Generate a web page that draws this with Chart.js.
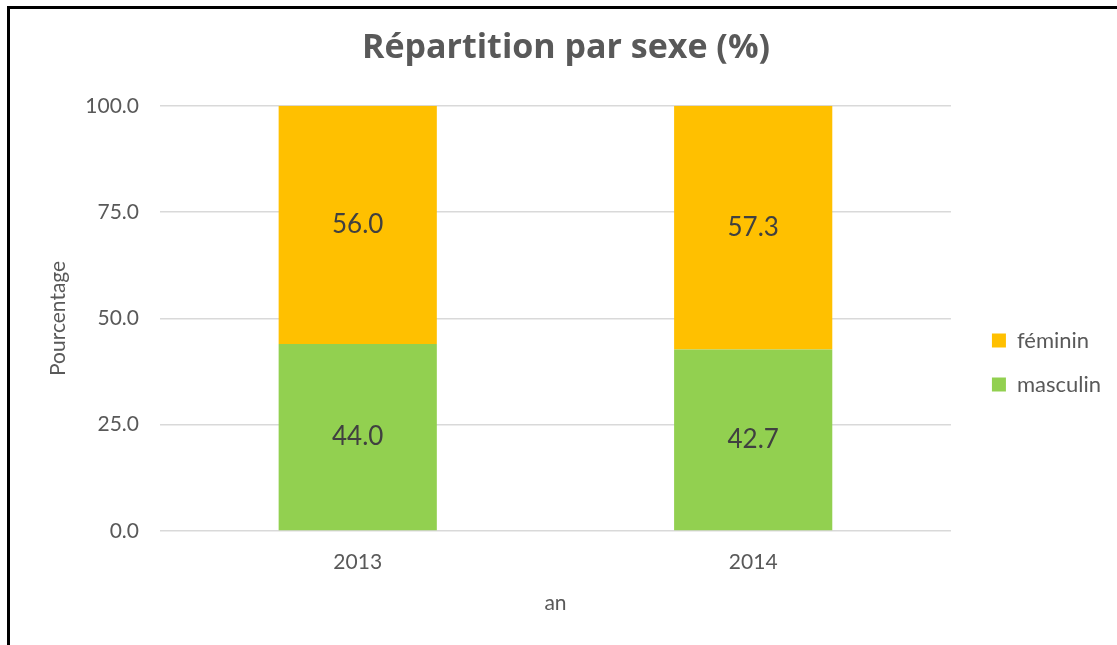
<!DOCTYPE html>
<html>
<head>
<meta charset="utf-8">
<script src="https://cdn.jsdelivr.net/npm/chart.js@4/dist/chart.umd.min.js"></script>
<style>
  html, body { margin: 0; padding: 0; background: #fff; overflow: hidden; }
  #wrap { position: relative; width: 1117px; height: 645px; }
  #frame {
    position: absolute; left: 7px; top: 6px; right: 0; bottom: 0;
    border-left: 3px solid #000; border-top: 3px solid #000;
    pointer-events: none;
  }
</style>
</head>
<body>
<div id="wrap">
  <canvas id="chart" width="1117" height="645"></canvas>
  <div id="frame"></div>
</div>
<script>
  // ── DATA ──────────────────────────────────────────────────────────
  const YEARS     = ['2013', '2014'];
  const MASCULIN  = [44.0, 42.7];
  const FEMININ   = [56.0, 57.3];
  const Y_TICKS   = [0, 25, 50, 75, 100];

  const FONT       = "Lato, 'Open Sans', sans-serif";
  const TITLE_FONT = "'Open Sans', Lato, sans-serif";
  const GREY_TEXT  = '#595959';

  // legend sits a bit lower / further right than Chart.js puts it
  const LEGEND_SHIFT_X = 19;
  const LEGEND_SHIFT_Y = 40;

  // ── VALUE LABELS INSIDE THE BARS ──────────────────────────────────
  const barValues = {
    id: 'barValues',
    afterDatasetsDraw(chart) {
      const { ctx } = chart;
      ctx.save();
      ctx.font = '26px ' + FONT;
      ctx.fillStyle = '#404040';
      ctx.textAlign = 'center';
      ctx.textBaseline = 'middle';
      chart.data.datasets.forEach((ds, di) => {
        const meta = chart.getDatasetMeta(di);
        meta.data.forEach((bar, i) => {
          const y = (bar.y + bar.base) / 2;
          ctx.fillText(ds.data[i].toFixed(1), bar.x, y);
        });
      });
      ctx.restore();
    }
  };

  const legendNudge = {
    id: 'legendNudge',
    afterLayout(chart) {
      const lg = chart.legend;
      if (!lg) return;
      lg.left += LEGEND_SHIFT_X; lg.right += LEGEND_SHIFT_X;
      lg.top += LEGEND_SHIFT_Y;  lg.bottom += LEGEND_SHIFT_Y;
    }
  };

  new Chart(document.getElementById('chart'), {
    type: 'bar',
    data: {
      labels: YEARS,
      datasets: [
        { label: 'masculin', data: MASCULIN, backgroundColor: '#92D050',
          barPercentage: 0.4, categoryPercentage: 1.0 },
        { label: 'féminin',  data: FEMININ,  backgroundColor: '#FFC000',
          barPercentage: 0.4, categoryPercentage: 1.0 }
      ]
    },
    options: {
      responsive: false,
      animation: false,
      layout: { padding: { left: 40, right: 25, top: 0, bottom: 0 } },
      plugins: {
        title: {
          display: true,
          text: 'Répartition par sexe (%)',
          color: GREY_TEXT,
          font: { family: TITLE_FONT, size: 34, weight: 'bold' },
          padding: { top: 28, bottom: 37 }
        },
        legend: {
          position: 'right',
          reverse: true,
          labels: {
            color: GREY_TEXT,
            font: { family: FONT, size: 22 },
            boxWidth: 14,
            boxHeight: 14,
            padding: 22
          }
        },
        tooltip: { enabled: false }
      },
      scales: {
        x: {
          stacked: true,
          grid: { display: false, drawTicks: false },
          border: { display: false },
          ticks: { color: GREY_TEXT, font: { family: FONT, size: 21 }, padding: 19 },
          title: {
            display: true, text: 'an', color: GREY_TEXT,
            font: { family: FONT, size: 21 }, padding: { top: 0, bottom: 29 }
          },
          afterFit(s) { s.height = 114; }
        },
        y: {
          stacked: true,
          min: 0, max: 100,
          afterBuildTicks(s) { s.ticks = Y_TICKS.map(v => ({ value: v })); },
          grid: { color: '#D9D9D9', lineWidth: 1.5, drawTicks: false },
          border: { display: false },
          ticks: {
            color: GREY_TEXT, font: { family: FONT, size: 21 }, padding: 21,
            callback: v => Number(v).toFixed(1)
          },
          title: {
            display: true, text: 'Pourcentage', color: GREY_TEXT,
            font: { family: FONT, size: 21 }, padding: { top: 6, bottom: 0 }
          },
          afterFit(s) { s.width = 120; }
        }
      }
    },
    plugins: [barValues, legendNudge]
  });
</script>
</body>
</html>
